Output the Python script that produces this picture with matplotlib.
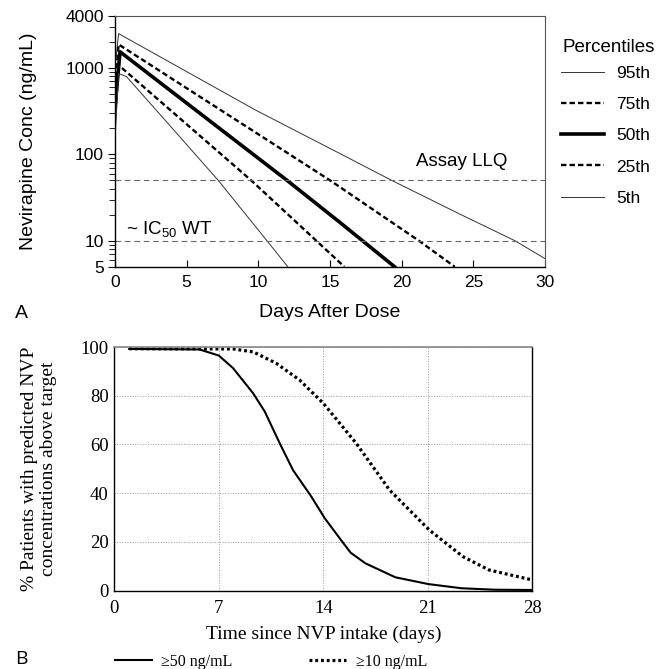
import matplotlib
matplotlib.use('Agg')
import matplotlib.pyplot as plt

# --- panel A: simulated percentiles of nevirapine concentration (ng/mL)
days_p95 = [0.0, 0.25, 9.8, 15.8, 19.3, 24.2, 27.9, 30.0]
conc_p95 = [1000, 2500, 326, 100, 50, 19.8, 10, 6.2]
days_p75 = [0.0, 0.25, 15.0, 21.2, 23.7]
conc_p75 = [500, 1875, 50, 10, 5]
days_p50 = [0.0, 0.35, 12.0, 15.75, 19.5]
conc_p50 = [350, 1540, 50, 16, 5]
days_p25 = [0.0, 0.25, 9.5, 16.0]
conc_p25 = [250, 1080, 50, 5]
days_p05 = [0.0, 0.25, 0.8, 4.0, 7.2, 10.6, 12.05]
conc_p05 = [150, 865, 795, 200, 50, 10, 5]
llq = 50
ic50 = 10

# --- panel B: % patients above target
days_b50 = [1.0, 5.7, 7.0, 7.96, 9.3, 10.08, 11.08, 11.97, 13.2, 14.1, 15.1,
            15.83, 16.83, 18.83, 21.05, 23.27, 25.5, 28.0]
pct_b50 = [99.2, 99.0, 96.5, 91.3, 81.0, 73.5, 60.5, 49.5, 38.6, 29.7, 21.5,
           15.6, 11.2, 5.5, 2.7, 1.0, 0.4, 0.3]
days_b10 = [1.0, 7.96, 9.3, 10.85, 12.4, 14.0, 15.1, 16.2, 18.44, 21.1,
            23.35, 25.1, 28.0]
pct_b10 = [99.3, 99.2, 98.0, 93.3, 86.5, 76.9, 68.7, 60.5, 41.3, 24.9,
           14.0, 8.5, 4.4]

sans = 'Liberation Sans'
serif = 'Liberation Serif'
plt.rcParams['mathtext.fontset'] = 'custom'
plt.rcParams['mathtext.rm'] = sans

W, H = 666, 669
fig = plt.figure(figsize=(W / 100, H / 100), dpi=100)

def fbox(l, t, r, b):
    return [l / W, 1 - b / H, (r - l) / W, (b - t) / H]

# ================= panel A =================
ax = fig.add_axes(fbox(115, 16, 545, 266.7))
thin = dict(color='#333333', lw=0.7)
dash = dict(color='black', lw=1.7, linestyle=(0, (2.3, 1.3)))
ax.plot(days_p95, conc_p95, label='95th', **thin)
ax.plot(days_p75, conc_p75, label='75th', **dash)
ax.plot(days_p50, conc_p50, color='black', lw=2.6, label='50th')
ax.plot(days_p25, conc_p25, label='25th', **dash)
ax.plot(days_p05, conc_p05, label='5th', **thin)
for v in (llq, ic50):
    ax.axhline(v, color='#666666', lw=0.8, linestyle=(0, (5, 3.5)))

ax.set_yscale('log')
ax.set_ylim(5, 4000)
ax.set_xlim(0, 30)
ax.set_yticks([5, 10, 100, 1000, 4000])
ax.set_yticklabels(['5', '10', '100', '1000', '4000'])
minors = [6, 7, 8, 9] + list(range(20, 100, 10)) + list(range(200, 1000, 100)) + [2000, 3000]
ax.set_yticks(minors, minor=True)
ax.set_yticklabels([], minor=True)
ax.set_xticks(range(0, 31, 5))
ax.tick_params(axis='y', which='major', direction='out', length=5, pad=3, labelsize=12.5)
ax.tick_params(axis='y', which='minor', direction='out', length=4)
ax.tick_params(axis='x', direction='in', length=5, pad=6, labelsize=12.5)
for lab in ax.get_xticklabels() + ax.get_yticklabels():
    lab.set_family(sans)
for s in ('top', 'right'):
    ax.spines[s].set_color('#555555')
    ax.spines[s].set_linewidth(0.8)
for s in ('left', 'bottom'):
    ax.spines[s].set_linewidth(1.0)

ax.set_ylabel('Nevirapine Conc (ng/mL)', fontsize=14, family=sans)
ax.yaxis.set_label_coords(-0.181, 0.5)
ax.set_xlabel('Days After Dose', fontsize=14, family=sans)
ax.xaxis.set_label_coords(0.5, -0.15)

ax.text(21.0, 82, 'Assay LLQ', fontsize=13.5, family=sans, va='center')
ax.text(0.75, 13.3, '~ IC$_{\\mathrm{50}}$ WT', fontsize=13.5, family=sans, va='center')

ax.legend(loc='upper left', bbox_to_anchor=(561 / W, 1 - 66 / H),
          bbox_transform=fig.transFigure, frameon=False,
          prop={'family': sans, 'size': 12.5}, handlelength=2.45,
          handletextpad=0.75, labelspacing=0.92, borderpad=0,
          borderaxespad=0)
fig.text(562 / W, 1 - 47 / H, 'Percentiles', fontsize=13.5, family=sans, va='center')

fig.text(15 / W, 1 - 313 / H, 'A', fontsize=14, family=sans, va='center')

# ================= panel B =================
bx = fig.add_axes(fbox(114.3, 347, 532.3, 590.7))
bx.plot(days_b50, pct_b50, color='black', lw=1.5, label='\u226550 ng/mL')
bx.plot(days_b10, pct_b10, color='black', lw=2.3, linestyle=(0, (0.9, 0.9)),
        label='\u226510 ng/mL')
bx.set_xlim(0, 28)
bx.set_ylim(0, 100)
bx.set_xticks([0, 7, 14, 21, 28])
bx.set_yticks([0, 20, 40, 60, 80, 100])
bx.grid(True, color='#999999', lw=0.7, linestyle=':')
bx.tick_params(length=0, labelsize=13.5)
bx.tick_params(axis='x', pad=7)
bx.tick_params(axis='y', pad=4)
for lab in bx.get_xticklabels() + bx.get_yticklabels():
    lab.set_family(serif)
bx.spines['top'].set_color('#888888')
bx.spines['top'].set_linewidth(1.2)
for s in ('left', 'bottom', 'right'):
    bx.spines[s].set_linewidth(1.0)

bx.set_ylabel('% Patients with predicted NVP\nconcentrations above target',
              fontsize=14, family=serif, linespacing=1.1)
bx.yaxis.set_label_coords(-0.138, 0.5)
bx.set_xlabel('Time since NVP intake (days)', fontsize=14, family=serif)
bx.xaxis.set_label_coords(0.5, -0.142)

bx.legend(loc='center left', bbox_to_anchor=(115 / W, 1 - 662 / H),
          bbox_transform=fig.transFigure, frameon=False, ncol=2,
          prop={'family': serif, 'size': 11.5}, handlelength=2.3,
          handletextpad=0.6, columnspacing=4.8, borderpad=0, borderaxespad=0)

fig.text(15 / W, 1 - 659 / H, 'B', fontsize=14, family='Open Sans', va='center')

fig.savefig('out.png', dpi=100)
